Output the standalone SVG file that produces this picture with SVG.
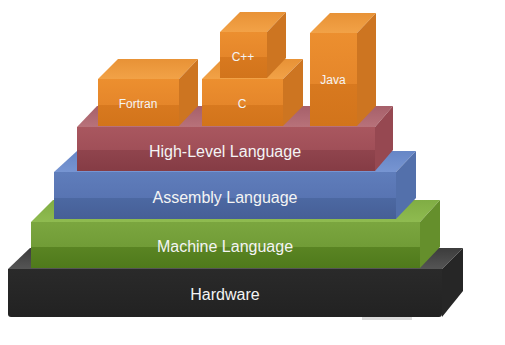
<svg xmlns="http://www.w3.org/2000/svg" width="505" height="345" viewBox="0 0 505 345">
  <defs>
    <!-- glossy front faces: lighter upper half, darker lower half -->
    <linearGradient id="frontGreen" x1="0" y1="0" x2="0" y2="1">
      <stop offset="0" stop-color="#7ba63f"/>
      <stop offset="0.54" stop-color="#719c37"/>
      <stop offset="0.54" stop-color="#5a8423"/>
      <stop offset="1" stop-color="#4f7a1b"/>
    </linearGradient>
    <linearGradient id="frontBlue" x1="0" y1="0" x2="0" y2="1">
      <stop offset="0" stop-color="#5f7dbb"/>
      <stop offset="0.56" stop-color="#5874b2"/>
      <stop offset="0.56" stop-color="#4c68a2"/>
      <stop offset="1" stop-color="#465f96"/>
    </linearGradient>
    <linearGradient id="frontRed" x1="0" y1="0" x2="0" y2="1">
      <stop offset="0" stop-color="#a9575f"/>
      <stop offset="0.52" stop-color="#a04f58"/>
      <stop offset="0.52" stop-color="#90444d"/>
      <stop offset="1" stop-color="#853c45"/>
    </linearGradient>
    <linearGradient id="frontOrange" x1="0" y1="0" x2="0" y2="1">
      <stop offset="0" stop-color="#ec8f2f"/>
      <stop offset="0.55" stop-color="#e5862a"/>
      <stop offset="0.55" stop-color="#d8791f"/>
      <stop offset="1" stop-color="#d2741b"/>
    </linearGradient>
    <linearGradient id="frontBlack" x1="0" y1="0" x2="0" y2="1">
      <stop offset="0" stop-color="#2a2a2a"/>
      <stop offset="1" stop-color="#222222"/>
    </linearGradient>
    <linearGradient id="topBlack" x1="0" y1="0" x2="0" y2="1">
      <stop offset="0" stop-color="#3c3c3c"/>
      <stop offset="1" stop-color="#555555"/>
    </linearGradient>
    <linearGradient id="topGreen" x1="0" y1="0" x2="0" y2="1">
      <stop offset="0" stop-color="#80ad44"/>
      <stop offset="1" stop-color="#8fbb50"/>
    </linearGradient>
    <linearGradient id="topBlue" x1="0" y1="0" x2="0" y2="1">
      <stop offset="0" stop-color="#6686c6"/>
      <stop offset="1" stop-color="#7795d2"/>
    </linearGradient>
    <linearGradient id="topRed" x1="0" y1="0" x2="0" y2="1">
      <stop offset="0" stop-color="#a6606a"/>
      <stop offset="1" stop-color="#b8727a"/>
    </linearGradient>
    <linearGradient id="topOrange" x1="0" y1="0" x2="0" y2="1">
      <stop offset="0" stop-color="#e89236"/>
      <stop offset="1" stop-color="#f2a247"/>
    </linearGradient>
  </defs>
  <style>
    .label { font-family: "Liberation Sans", Arial, sans-serif; fill: #f4f4f4; text-anchor: middle; }
    .big { font-size: 16px; }
    .small { font-size: 12px; }
    .sideBlack { fill: #262626; }
    .sideGreen { fill: #658f2c; }
    .sideBlue { fill: #5370ab; }
    .sideRed { fill: #964851; }
    .sideOrange { fill: #cd7521; }
  </style>

  <rect width="505" height="345" fill="#ffffff"/>
  <!-- faint floor reflection under the base -->
  <rect x="362" y="317" width="50" height="3" fill="#dcdcdc"/>

  <g id="hardware">
    <polygon points="8,269 30,248 463,248 442,269" fill="url(#topBlack)"/>
    <polygon class="sideBlack" points="442,269 463,248 463,291 442,317"/>
    <path d="M8,269 H442 V314 Q442,317 439,317 H11 Q8,317 8,314 Z" fill="url(#frontBlack)"/>
    <text class="label big" x="225" y="300">Hardware</text>
  </g>

  <g id="machine-language">
    <polygon points="31,222 53,200 440,200 420,222" fill="url(#topGreen)"/>
    <polygon class="sideGreen" points="420,222 440,200 440,247 420,268"/>
    <rect x="31" y="222" width="389" height="46" fill="url(#frontGreen)"/>
    <text class="label big" x="225" y="252">Machine Language</text>
  </g>

  <g id="assembly-language">
    <polygon points="54,172 77,151 416,151 396,172" fill="url(#topBlue)"/>
    <polygon class="sideBlue" points="396,172 416,151 416,198 396,219"/>
    <rect x="54" y="172" width="342" height="47" fill="url(#frontBlue)"/>
    <text class="label big" x="225" y="203">Assembly Language</text>
  </g>

  <g id="high-level-language">
    <polygon points="77,127 97,106 393,106 375,127" fill="url(#topRed)"/>
    <polygon class="sideRed" points="375,127 393,106 393,150 375,171"/>
    <rect x="77" y="127" width="298" height="44" fill="url(#frontRed)"/>
    <text class="label big" x="225" y="157">High-Level Language</text>
  </g>

  <g id="fortran">
    <polygon points="98,79 118,59 198,59 179,79" fill="url(#topOrange)"/>
    <polygon class="sideOrange" points="179,79 198,59 198,106 179,126"/>
    <rect x="98" y="79" width="81" height="47" fill="url(#frontOrange)"/>
    <text class="label small" x="138" y="108">Fortran</text>
  </g>

  <g id="c">
    <polygon points="202,79 222,59 303,59 283,79" fill="url(#topOrange)"/>
    <polygon class="sideOrange" points="283,79 303,59 303,106 283,126"/>
    <rect x="202" y="79" width="81" height="47" fill="url(#frontOrange)"/>
    <text class="label small" x="242" y="108">C</text>
  </g>

  <g id="cpp">
    <polygon points="220,32 240,12 286,12 267,32" fill="url(#topOrange)"/>
    <polygon class="sideOrange" points="267,32 286,12 286,58 267,78"/>
    <rect x="220" y="32" width="47" height="46" fill="url(#frontOrange)"/>
    <text class="label small" x="243" y="61">C++</text>
  </g>

  <g id="java">
    <polygon points="310,33 330,13 376,13 357,33" fill="url(#topOrange)"/>
    <polygon class="sideOrange" points="357,33 376,13 376,106 357,126"/>
    <rect x="310" y="33" width="47" height="93" fill="url(#frontOrange)"/>
    <text class="label small" x="333" y="84">Java</text>
  </g>

  <g id="connectors"/>
</svg>
